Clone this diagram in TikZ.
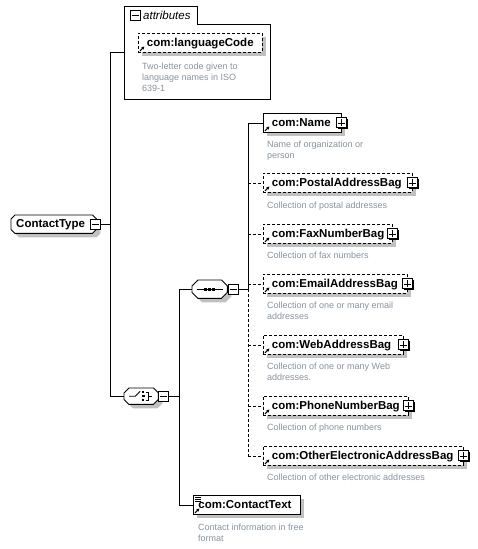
\documentclass[tikz,border=0pt]{standalone}
\usepackage{fontspec}
\setmainfont{Liberation Sans}
\usetikzlibrary{shadows,calc,arrows.meta,backgrounds}
\definecolor{descgray}{RGB}{136,146,160}
\definecolor{shgray}{RGB}{192,192,192}
\newcommand\octp[4]{($(#1.north west)+(#2+#3,#4)$) -- ($(#1.north east)+(-#2+#3,#4)$) -- ($(#1.north east)+(#3,#2+#4)$) -- ($(#1.south east)+(#3,-#2+#4)$) -- ($(#1.south east)+(-#2+#3,#4)$) -- ($(#1.south west)+(#2+#3,#4)$) -- ($(#1.south west)+(#3,-#2+#4)$) -- ($(#1.north west)+(#3,#2+#4)$) -- cycle}
\newcommand\elemarrow[1]{\draw[line width=1pt,-{Latex[length=3pt,width=3.5pt]}] ($(#1.south west)+(2,-2)$) -- ++(4.5,-4.5);}
\newcommand\plusbox[2]{\node[pm] (#1) at (#2) {};
  \draw[line width=0.9pt] ($(#1.center)+(-3.5,0)$) -- ($(#1.center)+(3.5,0)$) ($(#1.center)+(0,-3.5)$) -- ($(#1.center)+(0,3.5)$);}
\newcommand\minusbox[2]{\node[pm] (#1) at (#2) {};
  \draw[line width=0.9pt] ($(#1.center)+(-3.5,0)$) -- ($(#1.center)+(3.5,0)$);}
\tikzset{
  elemtxt/.style={font=\fontsize{11.5}{13}\selectfont\bfseries, text height=8.5pt, text depth=1.5pt},
  elem/.style={draw, line width=0.9pt, fill=white, rectangle, anchor=north west, inner sep=0pt,
    minimum height=19pt, elemtxt,
    general shadow={draw=none, fill=shgray, shadow xshift=4pt, shadow yshift=-4pt}},
  optelem/.style={elem, dash pattern=on 3pt off 2pt},
  desc/.style={font=\fontsize{9}{11}\selectfont, text=descgray, align=left, anchor=north west, inner sep=0pt},
  pm/.style={draw, fill=white, minimum size=10pt, inner sep=0pt, line width=1pt,
    general shadow={draw=none, fill=black, shadow xshift=0.8pt, shadow yshift=-0.8pt}},
  compo/.style={inner sep=0pt, anchor=north west},
  conn/.style={line width=0.9pt},
  optconn/.style={line width=0.9pt, dash pattern=on 3pt off 2pt},
}
\begin{document}
\begin{tikzpicture}[x=1pt,y=-1pt]
\useasboundingbox (0,0) rectangle (477,549);

% ---- ContactType ----
\node[compo, minimum width=85pt, minimum height=18pt, elemtxt] (ct) at (11,215) {\hbox to 85pt{\hspace{5pt}ContactType\hfil}};
\begin{scope}[on background layer]
  \fill[shgray] \octp{ct}{4}{4}{4};
  \draw[fill=white, line width=0.9pt] \octp{ct}{4}{0}{0};
\end{scope}
\minusbox{ctm}{95.5,224}

% ---- attributes ----
\node[compo, minimum width=146pt, minimum height=93pt] (attr) at (124,6) {};
\draw[line width=0.9pt] (attr.south west) -- (attr.north west) -- ($(attr.north west)+(73,0)$) -- ($(attr.north west)+(73,18)$) -- ($(attr.north east)+(0,18)$) -- (attr.south east) -- cycle;
\minusbox{attrm}{135,15.5}
\node[anchor=west, inner sep=0pt, font=\fontsize{11.5}{13}\selectfont\itshape] (attrlbl) at (143,15.5) {attributes};
\node[optelem] (lc) at (138,33) {\hbox to 124pt{\hspace{8.5pt}com:languageCode\hfil}};
\elemarrow{lc}
\node[desc] (lcdesc) at (142,62.5) {Two-letter code given to\\language names in ISO\\639-1};

% ---- choice ----
\node[compo, minimum width=34pt, minimum height=16pt] (ch) at (124,388) {};
\begin{scope}[on background layer]
  \fill[shgray] \octp{ch}{5}{4}{4};
  \draw[fill=white, line width=0.9pt] \octp{ch}{5}{0}{0};
\end{scope}
\draw[line width=0.9pt] ($(ch.center)+(-12,0)$) -- ($(ch.center)+(-6,0)$) -- ($(ch.center)+(-1,-5)$);
\fill ($(ch.center)+(1,-5)$) rectangle ++(2.2,2.2);
\fill ($(ch.center)+(1,-1.2)$) rectangle ++(2.4,2.4);
\fill ($(ch.center)+(1,3)$) rectangle ++(2.2,2.2);
\draw[line width=0.9pt] ($(ch.center)+(4.5,-4)$) -- ($(ch.center)+(7,-4)$) -- ($(ch.center)+(7,4)$) -- ($(ch.center)+(4.5,4)$);
\draw[line width=0.9pt] ($(ch.center)+(7,0)$) -- ($(ch.center)+(11,0)$);
\minusbox{chm}{163.5,396}

% ---- sequence ----
\node[compo, minimum width=35pt, minimum height=18pt] (seq) at (192,280) {};
\begin{scope}[on background layer]
  \fill[shgray] \octp{seq}{6}{4}{4};
  \draw[fill=white, line width=0.9pt] \octp{seq}{6}{0}{0};
\end{scope}
\draw[line width=0.9pt] ($(seq.center)+(-13,0)$) -- ($(seq.center)+(13,0)$);
\foreach \dx in {-4,0,4} \fill ($(seq.center)+(\dx-1.3,-1.3)$) rectangle ++(2.6,2.6);
\minusbox{seqm}{233,289}

% ---- sequence children ----
\node[elem] (name) at (263,113) {\hbox to 78pt{\hspace{8.5pt}com:Name\hfil}};
\elemarrow{name}\plusbox{namep}{name.east}
\node[desc] (namedesc) at (267,141) {Name of organization or\\person};

\node[optelem] (postal) at (263,173) {\hbox to 149pt{\hspace{8.5pt}com:PostalAddressBag\hfil}};
\elemarrow{postal}\plusbox{postalp}{postal.east}
\node[desc] (postaldesc) at (267,202) {Collection of postal addresses};

\node[optelem] (fax) at (263,224) {\hbox to 129pt{\hspace{8.5pt}com:FaxNumberBag\hfil}};
\elemarrow{fax}\plusbox{faxp}{fax.east}
\node[desc] (faxdesc) at (267,252) {Collection of fax numbers};

\node[optelem] (email) at (263,274) {\hbox to 144pt{\hspace{8.5pt}com:EmailAddressBag\hfil}};
\elemarrow{email}\plusbox{emailp}{email.east}
\node[desc] (emaildesc) at (267,302) {Collection of one or many email\\addresses};

\node[optelem] (web) at (263,335) {\hbox to 140pt{\hspace{8.5pt}com:WebAddressBag\hfil}};
\elemarrow{web}\plusbox{webp}{web.east}
\node[desc] (webdesc) at (267,363) {Collection of one or many Web\\addresses.};

\node[optelem] (phone) at (263,396) {\hbox to 145pt{\hspace{8.5pt}com:PhoneNumberBag\hfil}};
\elemarrow{phone}\plusbox{phonep}{phone.east}
\node[desc] (phonedesc) at (267,424) {Collection of phone numbers};

\node[optelem] (other) at (263,446) {\hbox to 200pt{\hspace{8.5pt}com:OtherElectronicAddressBag\hfil}};
\elemarrow{other}\plusbox{otherp}{other.east}
\node[desc] (otherdesc) at (267,474) {Collection of other electronic addresses};

% ---- ContactText ----
\node[elem] (ctxt) at (193,495) {\hbox to 107pt{\hspace{5pt}com:ContactText\hfil}};
\elemarrow{ctxt}
\foreach \dy in {2,4,6} \draw[line width=0.8pt] ($(ctxt.north west)+(2,\dy)$) -- ++(5.5,0);
\node[desc] (ctxtdesc) at (198,524) {Contact information in free\\format};

% ---- connectors ----
\coordinate (busA) at (110,0);
\coordinate (busB) at (179,0);
\coordinate (busC) at (248,0);
\draw[conn] (ctm.east) -- (ctm.east -| busA);
\draw[conn] (attr.west) -- (attr.west -| busA) -- (ch.west -| busA) -- (ch.west);
\draw[conn] (chm.east) -- (chm.east -| busB);
\draw[conn] (seq.west) -- (seq.west -| busB) -- (ctxt.west -| busB) -- (ctxt.west);
\draw[conn] (seqm.east) -- (seqm.east -| busC);
\draw[conn] (name.west) -- (name.west -| busC) -- (seqm.east -| busC);
\draw[optconn] (seqm.east -| busC) -- (other.west -| busC);
\foreach \c in {postal,fax,email,web,phone,other}
  \draw[optconn] (\c.west -| busC) -- (\c.west);
\end{tikzpicture}
\end{document}
